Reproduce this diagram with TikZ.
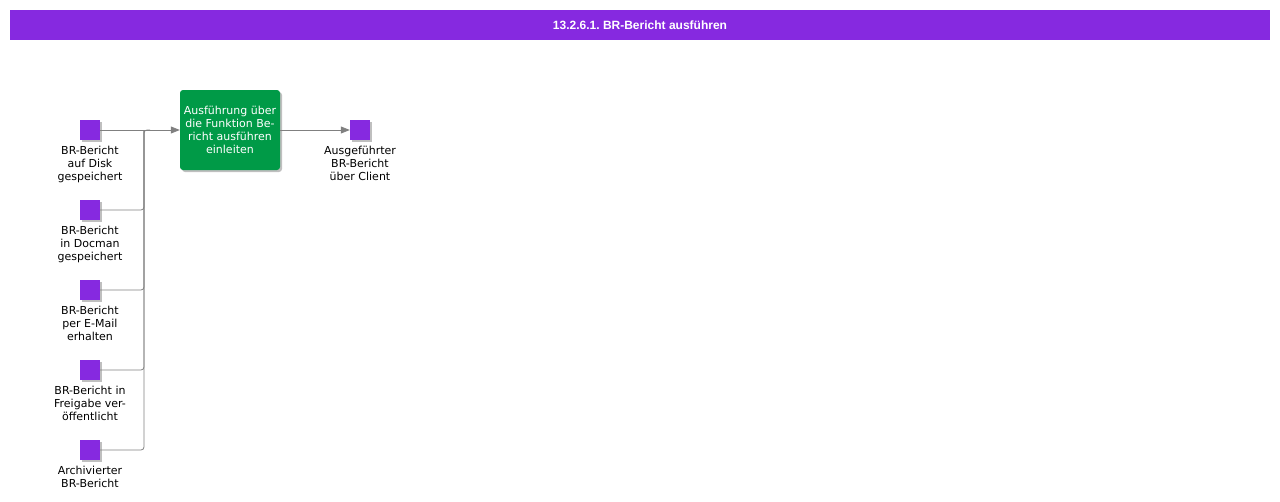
\documentclass[tikz,border=0pt]{standalone}
\usepackage{fontspec}
\setmainfont{DejaVu Sans}
\newfontfamily\titlefont{Liberation Sans}
\usetikzlibrary{arrows.meta,shadows}
\frenchspacing
\definecolor{evpurple}{HTML}{8629E0}
\definecolor{fngreen}{HTML}{009A47}
\definecolor{conngray}{HTML}{808080}
\tikzset{
  evbox/.style={fill=evpurple,draw=none,minimum width=20pt,minimum height=20pt,inner sep=0pt,
    drop shadow={shadow xshift=2pt,shadow yshift=-2pt,fill=black,opacity=0.25}},
  fnbox/.style={fill=fngreen,draw=none,rounded corners=3pt,minimum width=100pt,minimum height=80pt,
    inner sep=0pt,text=white,align=center,font=\fontsize{11}{13}\selectfont,
    drop shadow={shadow xshift=2pt,shadow yshift=-2pt,fill=black,opacity=0.25}},
  evlabel/.style={anchor=north,align=center,inner sep=0pt,font=\fontsize{11}{13}\selectfont,text=black},
  conn/.style={draw=conngray,line width=0.8pt,rounded corners=3pt},
  arr/.style={-{Triangle[length=9pt,width=7pt]}}
}
\begin{document}
\begin{tikzpicture}[x=1pt,y=-1pt]
\useasboundingbox (0,0) rectangle (1280,501);
\node[fill=evpurple,minimum width=1260pt,minimum height=30pt,inner sep=0pt,text=white,
  font=\titlefont\bfseries\fontsize{12}{14}\selectfont] (title) at (640,25) {13.2.6.1. BR-Bericht ausführen};

\node[evbox] (e1) at (90,130) {};
\node[evbox] (e2) at (90,210) {};
\node[evbox] (e3) at (90,290) {};
\node[evbox] (e4) at (90,370) {};
\node[evbox] (e5) at (90,450) {};
\node[evbox] (out) at (360,130) {};
\node[fnbox] (fn) at (230,130) {Ausführung über\\die Funktion Be-\\richt ausführen\\einleiten};

\node[evlabel] (l1) at (90,146) {BR-Bericht\\auf Disk\\gespeichert};
\node[evlabel] (l2) at (90,226) {BR-Bericht\\in Docman\\gespeichert};
\node[evlabel] (l3) at (90,306) {BR-Bericht\\per E-Mail\\erhalten};
\node[evlabel] (l4) at (90,386) {BR-Bericht in\\Freigabe ver-\\öffentlicht};
\node[evlabel] (l5) at (90,466) {Archivierter\\BR-Bericht};
\node[evlabel] (lo) at (360,146) {Ausgeführter\\BR-Bericht\\über Client};

\coordinate (j) at (144,130);
\draw[conn,arr] (e1.east) -- (fn.west);
\draw[conn] (e2.east) -- (144,210) -- (j);
\draw[conn] (e3.east) -- (144,290) -- (j);
\draw[conn] (e4.east) -- (144,370) -- (j);
\draw[conn] (e5.east) -- (144,450) -- (j) -- (150,130);
\draw[conn,arr] (fn.east) -- (out.west);
\end{tikzpicture}
\end{document}
